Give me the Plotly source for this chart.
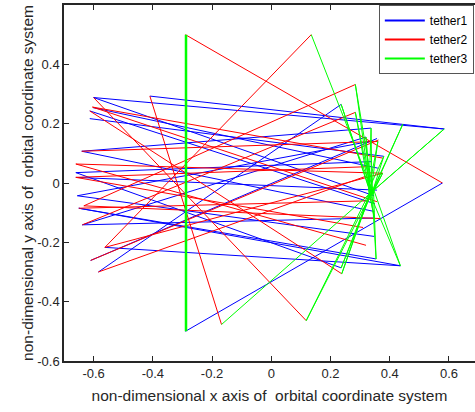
import plotly.graph_objects as go

# ---------------- data ----------------
# tether1 (blue) segments: start (x0,y0) -> end (x1,y1)
T1_X0 = [-0.410, -0.600, -0.600, -0.602, -0.613, -0.613, -0.640, -0.640, -0.660, -0.660,
         -0.660, -0.655, -0.655, -0.650, -0.650, -0.638, -0.638, -0.562, -0.584, -0.290, -0.610]
T1_Y0 = [0.293, 0.288, 0.288, 0.254, 0.243, 0.217, 0.107, 0.107, 0.035, 0.035,
         0.019, -0.043, -0.043, -0.085, -0.085, -0.141, -0.141, -0.217, -0.300, -0.500, -0.261]
T1_X1 = [0.584, 0.584, 0.347, 0.360, 0.350, 0.380, 0.348, 0.337, 0.337, 0.236,
         0.357, 0.337, 0.347, 0.436, 0.354, 0.348, 0.320, 0.436, 0.236, 0.578, 0.357]
T1_Y1 = [0.182, 0.182, -0.043, 0.050, -0.070, 0.090, -0.096, 0.185, 0.072, -0.286,
         -0.024, 0.141, -0.180, -0.279, -0.256, -0.118, 0.155, -0.279, 0.265, 0.000, 0.150]

# tether2 (red) segments
T2_X0 = [-0.290, 0.135, -0.600, -0.410, -0.633, -0.638, -0.613, -0.604, -0.604, -0.640,
         -0.660, -0.660, -0.610, -0.584, -0.660, -0.650, -0.633, -0.562, -0.660]
T2_Y0 = [0.500, 0.500, 0.288, 0.293, -0.077, -0.141, 0.243, 0.256, 0.256, 0.107,
         0.064, 0.019, -0.261, -0.300, 0.064, -0.085, -0.077, -0.217, 0.019]
T2_X1 = [0.578, -0.562, 0.118, -0.168, 0.284, 0.284, 0.238, 0.357, 0.376, 0.360,
         0.376, 0.326, 0.362, 0.320, 0.320, 0.330, 0.370, 0.376, 0.310]
T2_Y1 = [0.000, -0.217, -0.464, -0.477, 0.332, 0.238, -0.306, -0.063, 0.084, 0.140,
         0.033, 0.055, 0.145, 0.023, -0.210, -0.060, -0.120, 0.033, -0.150]

# tether3 (green): vertical stroke and fan polyline
T3_VX = [-0.288, -0.288]
T3_VY = [0.500, -0.500]
T3_X = [0.135, 0.345, 0.284, 0.335, 0.236, 0.330, 0.284, 0.340, 0.337, 0.330,
        0.320, 0.335, 0.360, 0.330, 0.380, 0.340, 0.444, 0.340, 0.584, 0.345,
        0.376, 0.335, 0.348, 0.330, 0.436, 0.345, 0.354, 0.340, 0.236, 0.340,
        0.238, 0.335, 0.118, 0.340, -0.168]
T3_Y = [0.500, -0.035, 0.332, -0.030, 0.265, -0.020, 0.238, -0.040, 0.185, -0.030,
        0.155, -0.040, 0.140, -0.020, 0.090, -0.035, 0.198, -0.030, 0.182, -0.025,
        0.033, -0.050, -0.118, -0.030, -0.279, -0.020, -0.256, -0.030, -0.286, -0.020,
        -0.306, -0.025, -0.464, -0.030, -0.477]

TICKS = [-0.6, -0.4, -0.2, 0, 0.2, 0.4, 0.6]
TICK_TEXT = ["-0.6", "-0.4", "-0.2", "0", "0.2", "0.4", "0.6"]
NAMES = ["tether1", "tether2", "tether3"]
COLORS = ["#0000ff", "#ff0000", "#00ff00"]


def segs(x0, y0, x1, y1):
    xs, ys = [], []
    for a, b, c, d in zip(x0, y0, x1, y1):
        xs += [a, c, None]
        ys += [b, d, None]
    return xs, ys


fig = go.Figure()
bx, by = segs(T1_X0, T1_Y0, T1_X1, T1_Y1)
rx, ry = segs(T2_X0, T2_Y0, T2_X1, T2_Y1)
fig.add_trace(go.Scatter(x=bx, y=by, mode="lines", line=dict(color=COLORS[0], width=1),
                         showlegend=False, hoverinfo="skip"))
fig.add_trace(go.Scatter(x=rx, y=ry, mode="lines", line=dict(color=COLORS[1], width=1),
                         showlegend=False, hoverinfo="skip"))
fig.add_trace(go.Scatter(x=T3_X, y=T3_Y, mode="lines", line=dict(color=COLORS[2], width=1),
                         showlegend=False, hoverinfo="skip"))
fig.add_trace(go.Scatter(x=T3_VX, y=T3_VY, mode="lines", line=dict(color=COLORS[2], width=2.5),
                         showlegend=False, hoverinfo="skip"))
# legend entries
for n, c in zip(NAMES, COLORS):
    fig.add_trace(go.Scatter(x=[None], y=[None], mode="lines", name=n,
                             line=dict(color=c, width=2)))

axis_common = dict(
    ticks="inside", ticklen=5, tickwidth=1, tickcolor="#262626",
    showline=True, linecolor="#262626", linewidth=1.5,
    showgrid=False, zeroline=False, automargin=False,
    tickvals=TICKS, ticktext=TICK_TEXT,
    tickfont=dict(size=13, color="#262626"),
)

fig.update_layout(
    width=475, height=412,
    margin=dict(l=64, r=0, t=5, b=51, autoexpand=False),
    plot_bgcolor="white", paper_bgcolor="white",
    font=dict(family="Liberation Sans, Arial, sans-serif", color="#262626"),
    xaxis=dict(range=[-0.7, 0.688], mirror="ticks",
               title=dict(text="non-dimensional x axis of  orbital coordinate system",
                          font=dict(size=15.5, color="#262626"), standoff=10),
               **axis_common),
    yaxis=dict(range=[-0.6, 0.6], mirror=False,
               title=dict(text="non-dimensional y axis of  orbital coordinate system",
                          font=dict(size=15.5, color="#262626"), standoff=0),
               **axis_common),
    legend=dict(x=0.766, y=1, xanchor="left", yanchor="top",
                bgcolor="white", bordercolor="#555555", borderwidth=1,
                itemwidth=40,
                font=dict(size=12, color="#000000"), tracegroupgap=0),
)

fig.write_html("out.html", config={"displayModeBar": False},
               post_script="document.body.style.margin='0px';document.body.style.overflow='hidden';")
